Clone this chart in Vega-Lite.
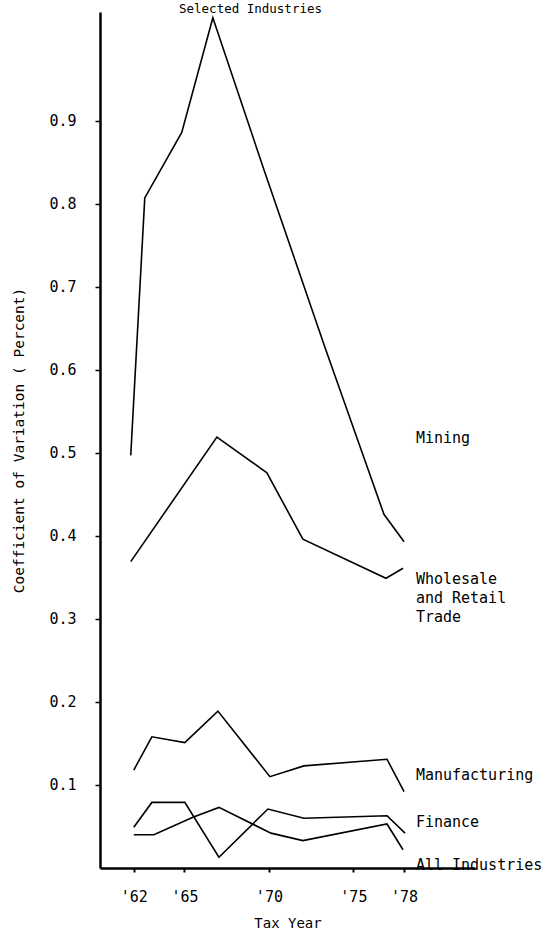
{
  "$schema": "https://vega.github.io/schema/vega-lite/v6.json",
  "width": 375,
  "height": 856,
  "autosize": "none",
  "padding": {"left": 100, "top": 12, "right": 75, "bottom": 63},
  "background": "white",
  "title": {
    "text": "Selected Industries",
    "font": "DejaVu Sans Mono",
    "fontSize": 12.5,
    "fontWeight": "normal",
    "color": "black",
    "baseline": "alphabetic",
    "offset": -13,
    "dx": -37
  },
  "config": {
    "view": {"stroke": null},
    "axis": {"grid": false, "domainColor": "black", "tickColor": "black", "labelColor": "black", "titleColor": "black", "labelFont": "DejaVu Sans Mono", "titleFont": "DejaVu Sans Mono", "titleFontWeight": "normal"}
  },
  "datasets": {
    "series": [
      {"series": "Mining", "year": 61.82, "value": 0.497},
      {"series": "Mining", "year": 62.65, "value": 0.807},
      {"series": "Mining", "year": 64.84, "value": 0.886},
      {"series": "Mining", "year": 66.68, "value": 1.024},
      {"series": "Mining", "year": 69.64, "value": 0.845},
      {"series": "Mining", "year": 73.32, "value": 0.627},
      {"series": "Mining", "year": 76.81, "value": 0.426},
      {"series": "Mining", "year": 78.0, "value": 0.393},
      {"series": "Wholesale and Retail Trade", "year": 61.82, "value": 0.369},
      {"series": "Wholesale and Retail Trade", "year": 66.92, "value": 0.519},
      {"series": "Wholesale and Retail Trade", "year": 69.88, "value": 0.476},
      {"series": "Wholesale and Retail Trade", "year": 72.01, "value": 0.396},
      {"series": "Wholesale and Retail Trade", "year": 76.93, "value": 0.349},
      {"series": "Wholesale and Retail Trade", "year": 77.94, "value": 0.361},
      {"series": "Manufacturing", "year": 62, "value": 0.118},
      {"series": "Manufacturing", "year": 63.07, "value": 0.158},
      {"series": "Manufacturing", "year": 65.02, "value": 0.151},
      {"series": "Manufacturing", "year": 66.98, "value": 0.189},
      {"series": "Manufacturing", "year": 70.06, "value": 0.110},
      {"series": "Manufacturing", "year": 72.07, "value": 0.123},
      {"series": "Manufacturing", "year": 76.99, "value": 0.131},
      {"series": "Manufacturing", "year": 78.0, "value": 0.092},
      {"series": "Finance", "year": 62, "value": 0.049},
      {"series": "Finance", "year": 63.07, "value": 0.079},
      {"series": "Finance", "year": 65.02, "value": 0.079},
      {"series": "Finance", "year": 67.04, "value": 0.013},
      {"series": "Finance", "year": 69.94, "value": 0.071},
      {"series": "Finance", "year": 72.07, "value": 0.060},
      {"series": "Finance", "year": 76.99, "value": 0.063},
      {"series": "Finance", "year": 78.06, "value": 0.042},
      {"series": "All Industries", "year": 62, "value": 0.040},
      {"series": "All Industries", "year": 63.19, "value": 0.040},
      {"series": "All Industries", "year": 65.5, "value": 0.061},
      {"series": "All Industries", "year": 67.04, "value": 0.073},
      {"series": "All Industries", "year": 70.12, "value": 0.042},
      {"series": "All Industries", "year": 72.01, "value": 0.033},
      {"series": "All Industries", "year": 76.99, "value": 0.053},
      {"series": "All Industries", "year": 77.94, "value": 0.022}
    ],
    "labels": [
      {"label": "Mining", "year": 78.7, "value": 0.518},
      {"label": "Wholesale\nand Retail\nTrade", "year": 78.7, "value": 0.348},
      {"label": "Manufacturing", "year": 78.7, "value": 0.112},
      {"label": "Finance", "year": 78.7, "value": 0.0554},
      {"label": "All Industries", "year": 78.7, "value": 0.0036}
    ]
  },
  "layer": [
    {
      "data": {"name": "series"},
      "mark": {"type": "line", "color": "black", "strokeWidth": 1.6, "clip": false},
      "encoding": {
        "x": {
          "field": "year", "type": "quantitative",
          "scale": {"domain": [60, 82.2], "nice": false, "zero": false},
          "axis": {
            "title": "Tax Year",
            "values": [62, 65, 70, 75, 78],
            "labelExpr": "\"'\" + datum.value",
            "labelFontSize": 15,
            "labelPadding": 17,
            "tickSize": 4,
            "tickWidth": 2,
            "domainWidth": 2.5,
            "titleFontSize": 14,
            "titlePadding": 12
          }
        },
        "y": {
          "field": "value", "type": "quantitative",
          "scale": {"domain": [0, 1.031], "nice": false},
          "axis": {
            "title": "Coefficient of Variation ( Percent)",
            "values": [0.1, 0.2, 0.3, 0.4, 0.5, 0.6, 0.7, 0.8, 0.9],
            "format": ".1f",
            "labelFontSize": 15,
            "labelPadding": 19,
            "tickSize": 5,
            "tickWidth": 1.5,
            "domainWidth": 2.5,
            "titleFontSize": 14.5,
            "titlePadding": 22
          }
        },
        "detail": {"field": "series", "type": "nominal"}
      }
    },
    {
      "data": {"name": "labels"},
      "mark": {"type": "text", "align": "left", "baseline": "middle", "font": "DejaVu Sans Mono", "fontSize": 15, "color": "black", "lineBreak": "\n", "lineHeight": 19, "clip": false},
      "encoding": {
        "x": {"field": "year", "type": "quantitative"},
        "y": {"field": "value", "type": "quantitative"},
        "text": {"field": "label", "type": "nominal"}
      }
    }
  ]
}
